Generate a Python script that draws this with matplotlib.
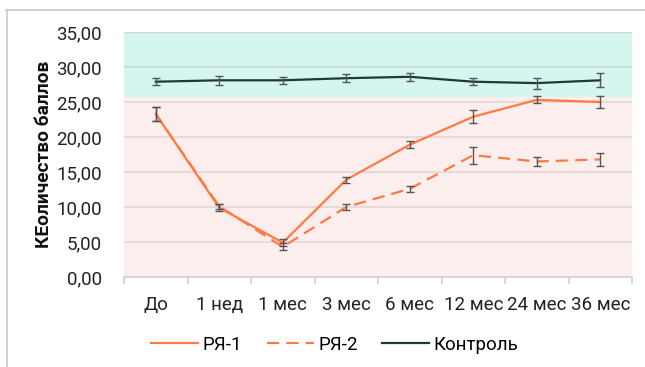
import matplotlib
matplotlib.use("Agg")
import matplotlib.pyplot as plt
from matplotlib.lines import Line2D
import numpy as np

plt.rcParams['font.family'] = ['Roboto', 'DejaVu Sans']

categories = ["До", "1 нед", "1 мес", "3 мес", "6 мес", "12 мес", "24 мес", "36 мес"]
ry1 = [23.3, 9.9, 4.9, 13.9, 18.9, 22.9, 25.3, 25.0]
ry1_err = [1.05, 0.5, 0.5, 0.4, 0.5, 0.9, 0.5, 0.8]
ry2 = [23.3, 10.1, 4.3, 10.0, 12.6, 17.4, 16.5, 16.8]
ry2_err = [1.05, 0.4, 0.5, 0.45, 0.4, 1.2, 0.6, 0.9]
control = [27.9, 28.1, 28.1, 28.4, 28.6, 27.9, 27.7, 28.1]
control_err = [0.5, 0.6, 0.5, 0.55, 0.6, 0.5, 0.8, 1.0]
yticks = [0, 5, 10, 15, 20, 25, 30, 35]
norm_low = 25.7

orange = "#FF7A40"
dark = "#1E3A32"
err_col = "#555555"

fig = plt.figure(figsize=(6.45, 3.67), dpi=100)
fig.patch.set_facecolor("white")

# outer frame of the chart (left and top edges)
fig.add_artist(Line2D([6.5/645, 6.5/645], [0, 1 - 10/367], transform=fig.transFigure,
                      color="#c8c8c8", lw=1.2))
fig.add_artist(Line2D([6/645, 1], [1 - 10/367, 1 - 10/367], transform=fig.transFigure,
                      color="#c8c8c8", lw=1.2))

ax = fig.add_axes([124/645, 1 - 277/367, (632 - 124)/645, (277 - 32)/367])
x = np.arange(len(categories))
ax.set_xlim(-0.5, len(categories) - 0.5)
ax.set_ylim(0, 35)

# reference bands
ax.axhspan(norm_low, 35, color="#D4F6EF", zorder=0, lw=0)
ax.axhspan(0, norm_low, color="#FDEEEE", zorder=0, lw=0)

for t in yticks[1:-1]:
    ax.axhline(t, color="#8a8a8a", alpha=0.25, lw=1.2, zorder=1)
ax.axhline(35, color="#d4d4d4", lw=1.6, zorder=1)

ax.plot(x, ry1, color=orange, lw=1.6, zorder=3, label="РЯ-1")
ax.plot(x, ry2, color=orange, lw=1.6, dashes=(5.5, 3.2), zorder=3, label="РЯ-2")
ax.plot(x, control, color=dark, lw=1.6, zorder=3, label="Контроль")

for vals, errs in [(ry1, ry1_err), (ry2, ry2_err), (control, control_err)]:
    ax.errorbar(x, vals, yerr=errs, fmt="none", ecolor=err_col, elinewidth=1.0,
                capsize=3.2, capthick=1.0, zorder=4)

for s in ["top", "right", "left"]:
    ax.spines[s].set_visible(False)
ax.spines["bottom"].set_color("#d0d0d0")
ax.spines["bottom"].set_linewidth(1.2)

ax.set_yticks(yticks)
ax.set_yticklabels([f"{v:.2f}".replace(".", ",") for v in yticks], fontsize=13.5, color="#222222")
ax.tick_params(axis="y", length=0, pad=16)

ax.set_xticks(x)
ax.set_xticklabels(categories, fontsize=13.5, color="#222222")
ax.set_xticks(np.arange(-0.5, len(categories), 1.0), minor=True)
ax.tick_params(axis="x", which="major", length=0, pad=14)
ax.tick_params(axis="x", which="minor", length=5, color="#d0d0d0", width=1.2)

ax.set_ylabel("КЕоличество баллов", fontsize=13.8, fontweight="bold", labelpad=2,
              color="#111111")

handles = [
    Line2D([], [], color=orange, lw=1.6),
    Line2D([], [], color=orange, lw=1.6, dashes=(5.5, 3.2)),
    Line2D([], [], color=dark, lw=1.6),
]
fig.legend(handles, ["РЯ-1", "РЯ-2", "Контроль"], loc="center",
           bbox_to_anchor=(335/645, 1 - 345/367), ncol=3, frameon=False,
           fontsize=13.5, handlelength=2.5, handletextpad=0.25, columnspacing=1.3)

fig.savefig("out.png", dpi=100, facecolor="white")
